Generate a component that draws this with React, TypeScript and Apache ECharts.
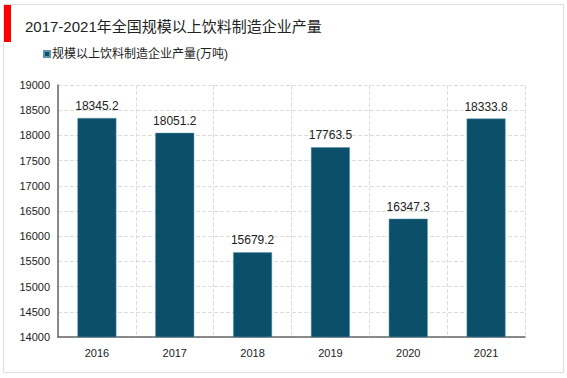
import React, { useEffect, useRef } from "react";
import * as echarts from "echarts";

const categories = ["2016", "2017", "2018", "2019", "2020", "2021"];
const values = [18345.2, 18051.2, 15679.2, 17763.5, 16347.3, 18333.8];
const titleText = "2017-2021年全国规模以上饮料制造企业产量";
const seriesName = "规模以上饮料制造企业产量(万吨)";

export default function App() {
  const ref = useRef<HTMLDivElement>(null);
  useEffect(() => {
    const chart = echarts.init(ref.current!, null, { renderer: "svg" });
    chart.setOption({
      animation: false,
      backgroundColor: "#fff",
      graphic: [
        { type: "rect", shape: { x: 3.5, y: 4.5, width: 560, height: 368 }, style: { fill: "none", stroke: "#dcdcdc", lineWidth: 1 } },
        { type: "rect", shape: { x: 4, y: 5, width: 7, height: 37 }, style: { fill: "#ff0000" } },
      ],
      title: {
        text: titleText,
        left: 20,
        top: 14,
        textStyle: { fontSize: 15, fontWeight: "normal", color: "#222", fontFamily: "'Liberation Sans', 'Noto Sans CJK SC', sans-serif" },
      },
      legend: {
        left: 38,
        top: 43,
        itemWidth: 6,
        itemHeight: 6,
        itemGap: 4,
        icon: "rect",
        textStyle: { fontSize: 12, color: "#222", padding: [0, 0, 0, -3], fontFamily: "'Liberation Sans', 'Noto Sans CJK SC', sans-serif" },
        data: [seriesName],
      },
      grid: { left: 58, right: 42, top: 85, bottom: 41, containLabel: false },
      xAxis: {
        type: "category",
        data: categories,
        axisLine: { lineStyle: { color: "#666", width: 1.5 } },
        axisTick: { show: false },
        axisLabel: { color: "#222", fontSize: 11, margin: 10, fontFamily: "'Liberation Sans', sans-serif" },
        splitLine: { show: true, lineStyle: { color: "#ddd", type: "dashed" } },
      },
      yAxis: {
        type: "value",
        min: 14000,
        max: 19000,
        interval: 500,
        axisLine: { show: true, lineStyle: { color: "#666", width: 1.5 } },
        axisTick: { show: false },
        axisLabel: {
          color: "#222",
          fontSize: 11,
          margin: 8,
          fontFamily: "'Liberation Sans', sans-serif",
          formatter: (v: number) => String(v),
        },
        splitLine: { show: true, lineStyle: { color: "#ddd", type: "dashed" } },
      },
      series: [
        {
          name: seriesName,
          type: "bar",
          data: values,
          barWidth: "50%",
          itemStyle: { color: "#0b4f6a", borderColor: "#5e95a8", borderWidth: 0.5 },
          label: {
            show: true,
            position: "top",
            distance: 6,
            color: "#222",
            fontSize: 12,
            fontFamily: "'Liberation Sans', sans-serif",
            formatter: (p: any) => p.value.toFixed(1),
          },
        },
      ],
    });
    return () => chart.dispose();
  }, []);
  return <div ref={ref} style={{ width: 567, height: 378, position: "absolute", left: 0, top: 0 }} />;
}
